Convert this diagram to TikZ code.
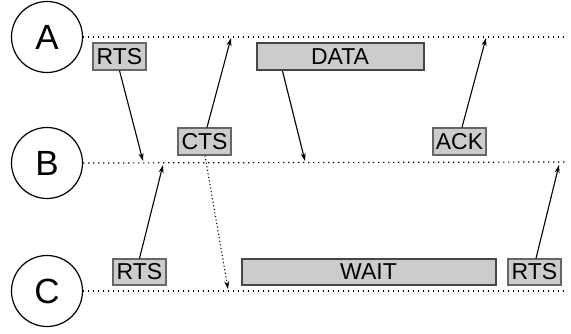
\documentclass[tikz,border=0pt]{standalone}
\usepackage{fontspec}
\setmainfont{Liberation Sans}
\usetikzlibrary{arrows.meta}
\begin{document}
\begin{tikzpicture}[x=1pt,y=-1pt,
  station/.style={circle,draw,line width=1.2pt,minimum size=71pt,inner sep=0pt,font=\fontsize{35}{35}\selectfont},
  timeline/.style={line width=1.2pt,dash pattern=on 1.2pt off 3.8pt},
  msg/.style={draw=black!60,fill=black!20,line width=1.2pt,minimum width=53pt,minimum height=27pt,inner sep=0pt,font=\fontsize{23}{23}\selectfont},
  longmsg/.style={draw=black!72,fill=black!20,line width=2pt,minimum height=27pt,inner sep=0pt,font=\fontsize{23}{23}\selectfont},
  sig/.style={line width=1.1pt,-{Stealth[length=8pt,width=5pt]}},
  dsig/.style={sig,dash pattern=on 1.1pt off 2.5pt}
]
\useasboundingbox (0,0) rectangle (571,334);
% stations
\node[station] (A) at (47,37) {A};
\node[station] (B) at (47,163) {B};
\node[station] (C) at (47,291) {C};
% time lines
\coordinate (Aend) at (567,37);
\coordinate (Bend) at (567,162);
\coordinate (Cend) at (567,291);
\draw[timeline] (A.east) -- (Aend);
\draw[timeline] (B.east) -- (Bend);
\draw[timeline] (C.east) -- (Cend);
% messages
\node[msg] (rts1) at (119.5,56.5) {RTS};
\node[msg] (cts) at (204.5,141.5) {CTS};
\node[longmsg,minimum width=167pt] (data) at (340,56.5) {DATA};
\node[msg] (ack) at (459.5,141.5) {ACK};
\node[msg,minimum height=26pt] (rts2) at (139.5,272) {RTS};
\node[longmsg,minimum width=254pt,minimum height=25pt] (wait) at (368.5,272) {WAIT};
\node[msg,minimum height=26pt] (rts3) at (534.5,272) {RTS};
% arrival points
\coordinate (p1) at (143,161);
\coordinate (p2) at (231,38);
\coordinate (p3) at (228,289);
\coordinate (p4) at (305,161);
\coordinate (p5) at (486,38);
\coordinate (p6) at (163,165);
\coordinate (p7) at (559,165);
% signals
\draw[sig] (rts1.south) -- (p1);
\draw[sig] ([xshift=2.5pt]cts.north) -- (p2);
\draw[dsig] ([xshift=0.5pt]cts.south) -- (p3);
\draw[sig] ([xshift=27pt]data.south west) -- (p4);
\draw[sig] ([xshift=2.5pt]ack.north) -- (p5);
\draw[sig] (rts2.north) -- (p6);
\draw[sig] ([xshift=1.5pt]rts3.north) -- (p7);
\end{tikzpicture}
\end{document}
